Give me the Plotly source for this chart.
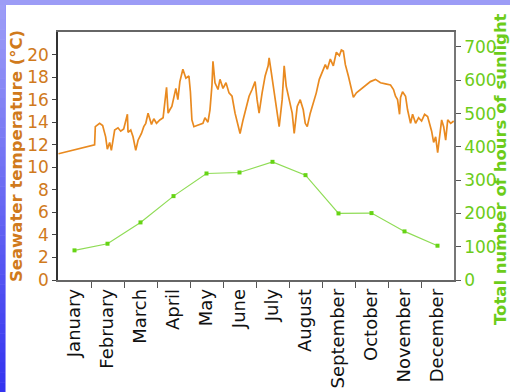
import plotly.graph_objects as go

# Month labels and monthly sunshine totals (hours)
months = ["January", "February", "March", "April", "May", "June", "July",
          "August", "September", "October", "November", "December"]
sun_hours = [89, 109, 173, 252, 320, 323, 355, 315, 200, 201, 146, 103]

# Seawater temperature record: time in months since 1 January, value in °C
temp_time = [
    0.015, 1.109, 1.131, 1.200, 1.261, 1.353, 1.444, 1.495, 1.565, 1.617, 1.717,
    1.818, 1.900, 1.991, 2.103, 2.122, 2.204, 2.274, 2.356, 2.426, 2.529,
    2.599, 2.660, 2.729, 2.833, 2.903, 2.985, 3.085, 3.185, 3.289, 3.337,
    3.389, 3.450, 3.511, 3.571, 3.632, 3.693, 3.784, 3.875, 3.967, 4.012,
    4.058, 4.119, 4.210, 4.301, 4.392, 4.453, 4.544, 4.605, 4.666, 4.696,
    4.757, 4.848, 4.909, 5.000, 5.091, 5.182, 5.274, 5.365, 5.456, 5.517,
    5.608, 5.699, 5.790, 5.881, 5.973, 6.033, 6.094, 6.185, 6.277, 6.368,
    6.398, 6.459, 6.550, 6.611, 6.702, 6.793, 6.854, 6.915, 7.006, 7.097,
    7.158, 7.249, 7.340, 7.432, 7.492, 7.553, 7.644, 7.736, 7.827, 7.918,
    8.009, 8.100, 8.161, 8.252, 8.343, 8.435, 8.526, 8.587, 8.647, 8.708,
    8.799, 8.891, 8.951, 9.043, 9.164, 9.316, 9.468, 9.620, 9.772, 9.924,
    10.076, 10.167, 10.228, 10.289, 10.350, 10.380, 10.441, 10.532, 10.593, 10.684,
    10.745, 10.836, 10.927, 11.018, 11.109, 11.201, 11.261, 11.322, 11.383, 11.444,
    11.505, 11.565, 11.626, 11.687, 11.748, 11.809, 11.900, 11.991,
]
temp_c = [
    11.2, 12.0, 13.6, 13.8, 13.9, 13.7, 12.7, 11.6, 12.2, 11.5, 13.3,
    13.5, 13.2, 13.4, 14.7, 13.1, 13.3, 12.7, 11.5, 12.4, 13.0,
    13.6, 13.9, 14.8, 13.8, 14.3, 13.9, 14.2, 14.4, 17.1, 14.8,
    15.1, 15.4, 16.2, 17.0, 16.0, 17.6, 18.7, 17.9, 18.1, 16.7,
    14.2, 13.6, 13.7, 13.8, 13.9, 14.4, 14.0, 15.1, 17.3, 19.4,
    17.5, 16.9, 17.8, 17.0, 17.5, 16.6, 16.3, 14.8, 13.6, 13.0,
    14.2, 15.4, 16.3, 16.9, 17.6, 16.0, 14.8, 16.6, 18.1, 19.0,
    19.7, 18.5, 16.6, 15.4, 13.6, 16.0, 19.0, 17.2, 16.0, 14.8,
    13.0, 15.4, 16.0, 15.1, 13.9, 13.6, 14.8, 15.7, 16.6, 17.8,
    18.4, 19.1, 18.7, 19.6, 19.0, 20.2, 19.9, 20.4, 20.3, 19.1,
    18.1, 16.9, 16.2, 16.6, 16.9, 17.3, 17.6, 17.8, 17.5, 17.4,
    17.3, 16.9, 16.3, 16.0, 14.7, 16.2, 16.7, 16.3, 15.1, 13.9,
    14.7, 13.9, 14.4, 14.1, 14.7, 14.5, 13.8, 13.2, 12.2, 12.7,
    11.3, 13.0, 14.2, 13.6, 12.4, 14.2, 13.9, 14.1,
]

temp_ticks = list(range(0, 21, 2))
sun_ticks = list(range(0, 701, 100))

ORANGE = "#e98a20"
ORANGE_TEXT = "#d07a1c"
GREEN_LINE = "#8fdc55"
GREEN_MARK = "#66d414"
GREEN_TEXT = "#6ccc1a"
FONT = "DejaVu Sans"

fig = go.Figure()

fig.add_trace(go.Scatter(
    x=temp_time, y=temp_c, mode="lines",
    line=dict(color=ORANGE, width=1.7),
    yaxis="y", showlegend=False, hoverinfo="skip",
))

fig.add_trace(go.Scatter(
    x=[i + 0.5 for i in range(len(months))], y=sun_hours,
    mode="lines+markers",
    line=dict(color=GREEN_LINE, width=1.2),
    marker=dict(symbol="square", size=4, color=GREEN_MARK),
    yaxis="y2", showlegend=False,
))

# Page frame: light band along the top, blue gradient band on the left
W, H = 510, 392
ml, mr, mt, mb = 58, 56, 32, 112
pw, ph = W - ml - mr, H - mt - mb


def px_x(px):
    return (px - ml) / pw


def px_y(py):
    return (H - mb - py) / ph


shapes = []
n_steps = 40
top_rgb = (158, 158, 246)
bot_rgb = (52, 52, 240)
for i in range(n_steps):
    f = i / (n_steps - 1)
    r = round(top_rgb[0] + (bot_rgb[0] - top_rgb[0]) * f)
    g = round(top_rgb[1] + (bot_rgb[1] - top_rgb[1]) * f)
    b = round(top_rgb[2] + (bot_rgb[2] - top_rgb[2]) * f)
    y0 = H * i / n_steps
    y1 = H * (i + 1) / n_steps + 0.5
    shapes.append(dict(type="rect", xref="paper", yref="paper",
                       x0=px_x(0), x1=px_x(5), y0=px_y(y1), y1=px_y(y0),
                       fillcolor=f"rgb({r},{g},{b})", line=dict(width=0),
                       layer="above"))
shapes.append(dict(type="rect", xref="paper", yref="paper",
                   x0=px_x(5), x1=px_x(6), y0=px_y(H), y1=px_y(5),
                   fillcolor="rgb(150,150,250)", line=dict(width=0), layer="above"))
shapes.append(dict(type="rect", xref="paper", yref="paper",
                   x0=px_x(0), x1=px_x(W), y0=px_y(5), y1=px_y(0),
                   fillcolor="rgb(156,156,246)", line=dict(width=0), layer="above"))

fig.update_layout(
    width=W, height=H,
    margin=dict(l=ml, r=mr, t=mt, b=mb, autoexpand=False),
    paper_bgcolor="white", plot_bgcolor="white",
    font=dict(family=FONT),
    shapes=shapes,
    xaxis=dict(
        range=[0, 12],
        tickvals=[i + 0.5 for i in range(len(months))],
        ticktext=months, tickangle=-90, ticks="",
        tickfont=dict(size=18, color="#111"),
        showline=True, linecolor="#666", linewidth=1.5, mirror=True,
        showgrid=False, zeroline=False,
        minor=dict(tickvals=list(range(1, 12)), ticks="outside",
                   ticklen=6, tickcolor="#555", tickwidth=1, showgrid=False),
    ),
    yaxis=dict(
        range=[0, 22], tickvals=temp_ticks, ticks="outside", ticklen=4,
        tickcolor="#444",
        tickfont=dict(size=17, color=ORANGE_TEXT),
        showline=True, linecolor="#333", linewidth=1.5,
        showgrid=False, zeroline=False,
        title=dict(text="<b>Seawater temperature (°C)</b>",
                   font=dict(size=16.5, color=ORANGE_TEXT), standoff=0),
    ),
    yaxis2=dict(
        overlaying="y", side="right",
        range=[0, 745], tickvals=sun_ticks, ticks="outside", ticklen=5,
        tickcolor="#555",
        tickfont=dict(size=17, color=GREEN_TEXT),
        showline=True, linecolor="#777", linewidth=1.5,
        showgrid=False, zeroline=False,
    ),
    annotations=[dict(
        text="<b>Total number of hours of sunlight</b>",
        xref="paper", yref="paper", x=px_x(500), y=px_y(169),
        xanchor="center", yanchor="middle",
        textangle=-90, showarrow=False,
        font=dict(size=16.5, color=GREEN_TEXT, family=FONT),
    )],
)

fig.write_html("out.html")
